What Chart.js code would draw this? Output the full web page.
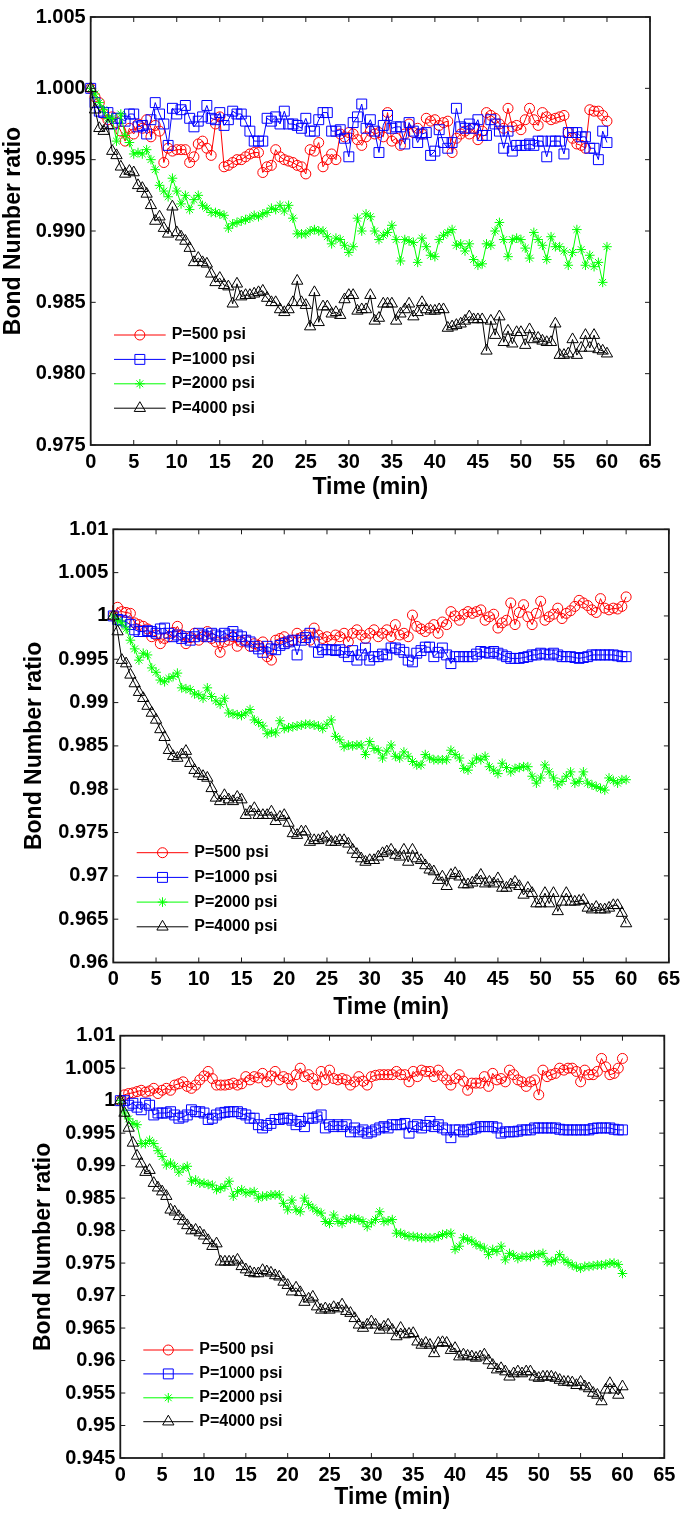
<!DOCTYPE html>
<html>
<head>
<meta charset="utf-8">
<title>Bond Number ratio vs time</title>
<script src="https://cdn.jsdelivr.net/npm/chart.js@4.4.0/dist/chart.umd.min.js"></script>
<style>
  html, body { margin: 0; padding: 0; background: #fff; }
  body { width: 685px; height: 1513px; position: relative; overflow: hidden; }
  canvas { position: absolute; left: 0; }
</style>
</head>
<body>
<canvas id="topChart" width="685" height="510" style="top:0px"></canvas>
<canvas id="midChart" width="685" height="525" style="top:500px"></canvas>
<canvas id="botChart" width="685" height="503" style="top:1010px"></canvas>
<script>
// time axis (min), one reading every 30 s
const TIME = [
  0, 0.5, 1, 1.5, 2, 2.5, 3, 3.5, 4, 4.5, 5, 5.5, 6, 6.5, 7, 7.5, 8, 8.5, 9, 9.5,
  10, 10.5, 11, 11.5, 12, 12.5, 13, 13.5, 14, 14.5, 15, 15.5, 16, 16.5, 17, 17.5, 18, 18.5, 19, 19.5,
  20, 20.5, 21, 21.5, 22, 22.5, 23, 23.5, 24, 24.5, 25, 25.5, 26, 26.5, 27, 27.5, 28, 28.5, 29, 29.5,
  30, 30.5, 31, 31.5, 32, 32.5, 33, 33.5, 34, 34.5, 35, 35.5, 36, 36.5, 37, 37.5, 38, 38.5, 39, 39.5,
  40, 40.5, 41, 41.5, 42, 42.5, 43, 43.5, 44, 44.5, 45, 45.5, 46, 46.5, 47, 47.5, 48, 48.5, 49, 49.5,
  50, 50.5, 51, 51.5, 52, 52.5, 53, 53.5, 54, 54.5, 55, 55.5, 56, 56.5, 57, 57.5, 58, 58.5, 59, 59.5,
  60
];

const SERIES = ['P=500 psi', 'P=1000 psi', 'P=2000 psi', 'P=4000 psi'];

// ---- top panel
const p500Top = [
  1.0000, 0.9994, 0.9990, 0.9982, 0.9978, 0.9980, 0.9976, 0.9970, 0.9963, 0.9972,
  0.9968, 0.9975, 0.9972, 0.9978, 0.9966, 0.9974, 0.9970, 0.9948, 0.9958, 0.9956,
  0.9957, 0.9957, 0.9957, 0.9948, 0.9952, 0.9961, 0.9963, 0.9958, 0.9953, 0.9975,
  0.9980, 0.9945, 0.9946, 0.9948, 0.9950, 0.9950, 0.9952, 0.9954, 0.9955, 0.9955,
  0.9941, 0.9945, 0.9946, 0.9957, 0.9952, 0.9950, 0.9949, 0.9948, 0.9946, 0.9945,
  0.9940, 0.9957, 0.9956, 0.9962, 0.9945, 0.9950, 0.9954, 0.9950, 0.9968, 0.9966,
  0.9969, 0.9968, 0.9964, 0.9960, 0.9966, 0.9970, 0.9968, 0.9969, 0.9966, 0.9983,
  0.9963, 0.9965, 0.9960, 0.9968, 0.9975, 0.9969, 0.9972, 0.9968, 0.9979, 0.9977,
  0.9978, 0.9974, 0.9976, 0.9977, 0.9955, 0.9965, 0.9968, 0.9970, 0.9968, 0.9972,
  0.9964, 0.9970, 0.9983, 0.9981, 0.9979, 0.9975, 0.9972, 0.9986, 0.9973, 0.9974,
  0.9971, 0.9978, 0.9986, 0.9978, 0.9974, 0.9983, 0.9980, 0.9978, 0.9979, 0.9980,
  0.9981, 0.9969, 0.9965, 0.9961, 0.9960, 0.9958, 0.9985, 0.9984, 0.9984, 0.9981,
  0.9977
];
const p1000Top = [
  1.0000, 0.9990, 0.9984, 0.9983, 0.9983, 0.9975, 0.9979, 0.9979, 0.9977, 0.9982,
  0.9982, 0.9973, 0.9974, 0.9968, 0.9978, 0.9990, 0.9982, 0.9975, 0.9960, 0.9986,
  0.9982, 0.9985, 0.9988, 0.9979, 0.9973, 0.9977, 0.9980, 0.9988, 0.9979, 0.9978,
  0.9983, 0.9974, 0.9978, 0.9984, 0.9982, 0.9982, 0.9977, 0.9970, 0.9963, 0.9963,
  0.9963, 0.9979, 0.9977, 0.9980, 0.9975, 0.9984, 0.9975, 0.9975, 0.9974, 0.9972,
  0.9979, 0.9970, 0.9970, 0.9978, 0.9983, 0.9983, 0.9970, 0.9970, 0.9971, 0.9965,
  0.9952, 0.9976, 0.9980, 0.9989, 0.9972, 0.9978, 0.9970, 0.9955, 0.9974, 0.9981,
  0.9972, 0.9973, 0.9973, 0.9961, 0.9976, 0.9970, 0.9962, 0.9968, 0.9969, 0.9953,
  0.9956, 0.9971, 0.9962, 0.9958, 0.9962, 0.9986, 0.9973, 0.9972, 0.9975, 0.9972,
  0.9978, 0.9967, 0.9967, 0.9978, 0.9975, 0.9970, 0.9958, 0.9970, 0.9956, 0.9960,
  0.9960, 0.9960, 0.9961, 0.9960, 0.9963, 0.9963, 0.9952, 0.9963, 0.9963, 0.9963,
  0.9954, 0.9969, 0.9969, 0.9969, 0.9966, 0.9966, 0.9958, 0.9958, 0.9950, 0.9970,
  0.9962
];
const p2000Top = [
  1.0000, 0.9996, 0.9990, 0.9985, 0.9979, 0.9979, 0.9963, 0.9982, 0.9967, 0.9962,
  0.9954, 0.9955, 0.9954, 0.9957, 0.9950, 0.9943, 0.9932, 0.9928, 0.9924, 0.9937,
  0.9928, 0.9919, 0.9925, 0.9915, 0.9922, 0.9925, 0.9918, 0.9916, 0.9913, 0.9913,
  0.9912, 0.9911, 0.9902, 0.9905, 0.9906, 0.9907, 0.9908, 0.9909, 0.9911, 0.9910,
  0.9912, 0.9913, 0.9916, 0.9915, 0.9918, 0.9914, 0.9918, 0.9909, 0.9898, 0.9898,
  0.9898, 0.9900, 0.9901, 0.9900, 0.9900, 0.9896, 0.9891, 0.9895, 0.9894, 0.9890,
  0.9885, 0.9889, 0.9909, 0.9900, 0.9912, 0.9910, 0.9900, 0.9894, 0.9897, 0.9899,
  0.9904, 0.9894, 0.9879, 0.9894, 0.9893, 0.9892, 0.9878, 0.9895, 0.9889, 0.9883,
  0.9882, 0.9894, 0.9897, 0.9899, 0.9901, 0.9890, 0.9891, 0.9886, 0.9891, 0.9880,
  0.9876, 0.9877, 0.9891, 0.9890, 0.9900, 0.9906, 0.9894, 0.9882, 0.9894, 0.9895,
  0.9894, 0.9888, 0.9881, 0.9899, 0.9894, 0.9890, 0.9880, 0.9896, 0.9889, 0.9889,
  0.9886, 0.9876, 0.9885, 0.9901, 0.9887, 0.9876, 0.9883, 0.9875, 0.9878, 0.9864,
  0.9889
];
const p4000Top = [
  1.0000, 0.9985, 0.9972, 0.9970, 0.9974, 0.9956, 0.9953, 0.9945, 0.9940, 0.9942,
  0.9941, 0.9932, 0.9930, 0.9926, 0.9918, 0.9907, 0.9910, 0.9902, 0.9898, 0.9917,
  0.9899, 0.9896, 0.9893, 0.9888, 0.9878, 0.9881, 0.9878, 0.9877, 0.9870, 0.9864,
  0.9867, 0.9862, 0.9861, 0.9849, 0.9863, 0.9854, 0.9855, 0.9855, 0.9856, 0.9857,
  0.9858, 0.9853, 0.9850, 0.9850, 0.9845, 0.9843, 0.9845, 0.9850, 0.9865, 0.9850,
  0.9848, 0.9833, 0.9857, 0.9836, 0.9847, 0.9847, 0.9842, 0.9843, 0.9841, 0.9852,
  0.9855, 0.9855, 0.9844, 0.9845, 0.9845, 0.9855, 0.9837, 0.9839, 0.9849, 0.9849,
  0.9849, 0.9837, 0.9842, 0.9845, 0.9849, 0.9840, 0.9843, 0.9850, 0.9845, 0.9844,
  0.9844, 0.9845, 0.9845, 0.9832, 0.9833, 0.9834, 0.9835, 0.9837, 0.9840, 0.9838,
  0.9838, 0.9838, 0.9816, 0.9837, 0.9827, 0.9840, 0.9822, 0.9830, 0.9821, 0.9829,
  0.9829, 0.9820, 0.9831, 0.9824, 0.9825, 0.9823, 0.9822, 0.9822, 0.9835, 0.9813,
  0.9813, 0.9814, 0.9824, 0.9813, 0.9818, 0.9827, 0.9818, 0.9827, 0.9817, 0.9816,
  0.9814
];

// ---- middle panel
const p500Mid = [
  1.0000, 1.0010, 1.0005, 1.0004, 1.0003, 0.9992, 0.9990, 0.9988, 0.9985, 0.9976,
  0.9978, 0.9968, 0.9974, 0.9976, 0.9981, 0.9988, 0.9978, 0.9968, 0.9975, 0.9980,
  0.9972, 0.9976, 0.9982, 0.9974, 0.9970, 0.9958, 0.9970, 0.9972, 0.9976, 0.9965,
  0.9970, 0.9972, 0.9965, 0.9968, 0.9966, 0.9970, 0.9953, 0.9949, 0.9972, 0.9974,
  0.9976, 0.9970, 0.9972, 0.9980, 0.9975, 0.9978, 0.9972, 0.9986, 0.9978, 0.9974,
  0.9976, 0.9972, 0.9978, 0.9976, 0.9980, 0.9970, 0.9980, 0.9984, 0.9978, 0.9974,
  0.9980, 0.9984, 0.9976, 0.9980, 0.9984, 0.9976, 0.9990, 0.9978, 0.9980, 0.9976,
  1.0001, 0.9988, 0.9985, 0.9982, 0.9986, 0.9990, 0.9980, 0.9993, 0.9990, 1.0005,
  1.0000, 0.9995, 1.0002, 1.0005, 1.0003, 1.0005, 1.0007, 0.9995, 0.9999, 1.0002,
  0.9986, 0.9992, 0.9995, 1.0015, 0.9990, 1.0004, 1.0013, 0.9999, 0.9990, 1.0003,
  1.0017, 0.9995, 0.9999, 1.0002, 1.0009, 0.9997, 1.0003, 1.0006, 1.0011, 1.0018,
  1.0015, 1.0012, 1.0007, 1.0004, 1.0020, 1.0009, 1.0007, 1.0009, 1.0008, 1.0011,
  1.0022
];
const p1000Mid = [
  1.0000, 0.9996, 0.9995, 0.9993, 0.9990, 0.9984, 0.9982, 0.9982, 0.9983, 0.9982,
  0.9980, 0.9985, 0.9986, 0.9980, 0.9976, 0.9978, 0.9974, 0.9976, 0.9972, 0.9976,
  0.9980, 0.9978, 0.9976, 0.9980, 0.9978, 0.9976, 0.9980, 0.9978, 0.9982, 0.9978,
  0.9976, 0.9972, 0.9970, 0.9965, 0.9962, 0.9958, 0.9965, 0.9962, 0.9961, 0.9966,
  0.9968, 0.9970, 0.9972, 0.9955, 0.9972, 0.9975, 0.9980, 0.9970, 0.9958, 0.9961,
  0.9961, 0.9961, 0.9960, 0.9961, 0.9958, 0.9953, 0.9960, 0.9949, 0.9955, 0.9963,
  0.9949, 0.9953, 0.9953, 0.9956, 0.9955, 0.9963, 0.9963, 0.9961, 0.9958, 0.9949,
  0.9947, 0.9957, 0.9960, 0.9964, 0.9964, 0.9953, 0.9958, 0.9963, 0.9955, 0.9945,
  0.9953, 0.9953, 0.9953, 0.9953, 0.9953, 0.9956, 0.9959, 0.9958, 0.9957, 0.9959,
  0.9957, 0.9955, 0.9953, 0.9951, 0.9951, 0.9951, 0.9952, 0.9953, 0.9955, 0.9955,
  0.9957, 0.9956, 0.9955, 0.9957, 0.9955, 0.9953, 0.9953, 0.9953, 0.9952, 0.9951,
  0.9952, 0.9953, 0.9955, 0.9955, 0.9955, 0.9955, 0.9955, 0.9955, 0.9954, 0.9953,
  0.9953
];
const p2000Mid = [
  1.0000, 0.9995, 0.9992, 0.9985, 0.9972, 0.9962, 0.9949, 0.9957, 0.9955, 0.9940,
  0.9935, 0.9926, 0.9924, 0.9928, 0.9930, 0.9934, 0.9917, 0.9916, 0.9915, 0.9910,
  0.9909, 0.9905, 0.9917, 0.9907, 0.9902, 0.9898, 0.9905, 0.9888, 0.9887, 0.9886,
  0.9885, 0.9888, 0.9892, 0.9880, 0.9877, 0.9873, 0.9864, 0.9866, 0.9865, 0.9879,
  0.9870, 0.9871, 0.9872, 0.9873, 0.9874, 0.9875, 0.9875, 0.9874, 0.9873, 0.9870,
  0.9875, 0.9880, 0.9861, 0.9857, 0.9849, 0.9851, 0.9850, 0.9851, 0.9851, 0.9840,
  0.9855, 0.9847, 0.9845, 0.9836, 0.9844, 0.9851, 0.9838, 0.9836, 0.9843, 0.9838,
  0.9832, 0.9828, 0.9828, 0.9840, 0.9836, 0.9834, 0.9834, 0.9834, 0.9834, 0.9845,
  0.9840, 0.9836, 0.9824, 0.9822, 0.9830, 0.9836, 0.9834, 0.9838, 0.9826, 0.9822,
  0.9818, 0.9830, 0.9825, 0.9820, 0.9824, 0.9825, 0.9826, 0.9826, 0.9815, 0.9807,
  0.9813, 0.9828, 0.9820, 0.9813, 0.9805, 0.9809, 0.9815, 0.9820, 0.9807, 0.9809,
  0.9820, 0.9807, 0.9805, 0.9803, 0.9801, 0.9799, 0.9813, 0.9810, 0.9807, 0.9811,
  0.9811
];
const p4000Mid = [
  1.0000, 0.9982, 0.9949, 0.9945, 0.9932, 0.9922, 0.9912, 0.9905, 0.9896, 0.9888,
  0.9880, 0.9869, 0.9860, 0.9845, 0.9838, 0.9836, 0.9840, 0.9844, 0.9830, 0.9822,
  0.9818, 0.9815, 0.9813, 0.9801, 0.9790, 0.9786, 0.9793, 0.9788, 0.9786, 0.9791,
  0.9788, 0.9770, 0.9774, 0.9778, 0.9770, 0.9770, 0.9770, 0.9774, 0.9763, 0.9768,
  0.9770, 0.9761, 0.9749, 0.9747, 0.9751, 0.9751, 0.9739, 0.9741, 0.9741, 0.9743,
  0.9745, 0.9739, 0.9739, 0.9741, 0.9741, 0.9737, 0.9730, 0.9725, 0.9720, 0.9716,
  0.9718, 0.9718, 0.9722, 0.9726, 0.9728, 0.9730, 0.9724, 0.9722, 0.9730, 0.9716,
  0.9730, 0.9720, 0.9718, 0.9712, 0.9707, 0.9705, 0.9695, 0.9699, 0.9688, 0.9701,
  0.9703, 0.9699, 0.9690, 0.9690, 0.9692, 0.9695, 0.9701, 0.9691, 0.9693, 0.9691,
  0.9697, 0.9686, 0.9686, 0.9690, 0.9693, 0.9688, 0.9678, 0.9686, 0.9680, 0.9668,
  0.9668, 0.9680, 0.9668, 0.9680, 0.9659, 0.9670, 0.9680, 0.9670, 0.9670, 0.9671,
  0.9672, 0.9663, 0.9661, 0.9664, 0.9661, 0.9661, 0.9663, 0.9666, 0.9666, 0.9657,
  0.9645
];

// ---- bottom panel
const p500Bot = [
  1.0000, 1.0009, 1.0011, 1.0012, 1.0014, 1.0016, 1.0013, 1.0015, 1.0019, 1.0011,
  1.0016, 1.0019, 1.0016, 1.0024, 1.0026, 1.0029, 1.0022, 1.0019, 1.0024, 1.0032,
  1.0038, 1.0045, 1.0034, 1.0024, 1.0024, 1.0024, 1.0025, 1.0027, 1.0024, 1.0026,
  1.0037, 1.0032, 1.0037, 1.0035, 1.0042, 1.0029, 1.0038, 1.0045, 1.0032, 1.0037,
  1.0034, 1.0024, 1.0040, 1.0050, 1.0037, 1.0040, 1.0034, 1.0024, 1.0045, 1.0032,
  1.0047, 1.0034, 1.0032, 1.0034, 1.0032, 1.0024, 1.0029, 1.0037, 1.0030, 1.0024,
  1.0037, 1.0039, 1.0040, 1.0040, 1.0040, 1.0040, 1.0045, 1.0040, 1.0040, 1.0029,
  1.0045, 1.0037, 1.0047, 1.0045, 1.0045, 1.0037, 1.0047, 1.0038, 1.0032, 1.0024,
  1.0034, 1.0040, 1.0030, 1.0016, 1.0027, 1.0027, 1.0027, 1.0037, 1.0022, 1.0042,
  1.0032, 1.0034, 1.0029, 1.0047, 1.0040, 1.0032, 1.0029, 1.0022, 1.0029, 1.0032,
  1.0009, 1.0047, 1.0037, 1.0040, 1.0042, 1.0050, 1.0047, 1.0050, 1.0050, 1.0045,
  1.0029, 1.0047, 1.0040, 1.0040, 1.0045, 1.0065, 1.0052, 1.0040, 1.0042, 1.0050,
  1.0065
];
const p1000Bot = [
  1.0000, 1.0000, 0.9993, 0.9996, 0.9990, 0.9986, 0.9996, 0.9993, 0.9978, 0.9981,
  0.9981, 0.9981, 0.9983, 0.9978, 0.9973, 0.9975, 0.9978, 0.9986, 0.9983, 0.9983,
  0.9981, 0.9971, 0.9973, 0.9978, 0.9981, 0.9982, 0.9983, 0.9983, 0.9983, 0.9980,
  0.9978, 0.9973, 0.9973, 0.9963, 0.9958, 0.9962, 0.9965, 0.9971, 0.9971, 0.9973,
  0.9973, 0.9970, 0.9963, 0.9968, 0.9960, 0.9973, 0.9973, 0.9975, 0.9978, 0.9958,
  0.9963, 0.9960, 0.9963, 0.9960, 0.9963, 0.9952, 0.9958, 0.9952, 0.9955, 0.9950,
  0.9952, 0.9955, 0.9958, 0.9960, 0.9958, 0.9963, 0.9963, 0.9963, 0.9965, 0.9950,
  0.9960, 0.9963, 0.9958, 0.9962, 0.9968, 0.9960, 0.9963, 0.9958, 0.9955, 0.9943,
  0.9955, 0.9955, 0.9952, 0.9955, 0.9956, 0.9958, 0.9960, 0.9960, 0.9960, 0.9960,
  0.9958, 0.9950, 0.9952, 0.9952, 0.9952, 0.9953, 0.9955, 0.9955, 0.9955, 0.9958,
  0.9958, 0.9958, 0.9958, 0.9958, 0.9958, 0.9956, 0.9955, 0.9955, 0.9955, 0.9955,
  0.9955, 0.9955, 0.9955, 0.9957, 0.9958, 0.9958, 0.9958, 0.9958, 0.9956, 0.9955,
  0.9955
];
const p2000Bot = [
  1.0000, 0.9981, 0.9972, 0.9965, 0.9963, 0.9934, 0.9934, 0.9939, 0.9934, 0.9923,
  0.9914, 0.9901, 0.9904, 0.9899, 0.9890, 0.9896, 0.9899, 0.9876, 0.9878, 0.9873,
  0.9873, 0.9871, 0.9870, 0.9863, 0.9865, 0.9868, 0.9876, 0.9853, 0.9860, 0.9863,
  0.9858, 0.9859, 0.9860, 0.9850, 0.9853, 0.9853, 0.9855, 0.9855, 0.9855, 0.9842,
  0.9832, 0.9847, 0.9832, 0.9829, 0.9850, 0.9840, 0.9835, 0.9830, 0.9827, 0.9814,
  0.9811, 0.9824, 0.9814, 0.9811, 0.9817, 0.9818, 0.9819, 0.9817, 0.9814, 0.9806,
  0.9812, 0.9817, 0.9829, 0.9814, 0.9815, 0.9817, 0.9796, 0.9796, 0.9793, 0.9791,
  0.9791, 0.9790, 0.9789, 0.9789, 0.9789, 0.9789, 0.9791, 0.9794, 0.9795, 0.9796,
  0.9771, 0.9776, 0.9789, 0.9786, 0.9784, 0.9779, 0.9776, 0.9773, 0.9763, 0.9771,
  0.9768, 0.9776, 0.9755, 0.9765, 0.9762, 0.9757, 0.9760, 0.9760, 0.9760, 0.9763,
  0.9763, 0.9765, 0.9752, 0.9752, 0.9755, 0.9763, 0.9755, 0.9751, 0.9747, 0.9744,
  0.9742, 0.9745, 0.9745, 0.9746, 0.9747, 0.9747, 0.9748, 0.9750, 0.9750, 0.9748,
  0.9734
];
const p4000Bot = [
  1.0000, 0.9981, 0.9958, 0.9935, 0.9915, 0.9903, 0.9890, 0.9893, 0.9873, 0.9866,
  0.9860, 0.9853, 0.9832, 0.9829, 0.9822, 0.9815, 0.9808, 0.9800, 0.9801, 0.9797,
  0.9792, 0.9785, 0.9776, 0.9780, 0.9752, 0.9752, 0.9752, 0.9752, 0.9755, 0.9745,
  0.9740, 0.9736, 0.9734, 0.9734, 0.9739, 0.9737, 0.9735, 0.9731, 0.9729, 0.9721,
  0.9716, 0.9706, 0.9712, 0.9705, 0.9690, 0.9695, 0.9698, 0.9683, 0.9678, 0.9680,
  0.9678, 0.9682, 0.9680, 0.9686, 0.9676, 0.9673, 0.9665, 0.9655, 0.9650, 0.9655,
  0.9660, 0.9655, 0.9647, 0.9652, 0.9655, 0.9647, 0.9637, 0.9650, 0.9640, 0.9641,
  0.9642, 0.9629, 0.9624, 0.9627, 0.9624, 0.9611, 0.9627, 0.9628, 0.9627, 0.9616,
  0.9619, 0.9606, 0.9609, 0.9607, 0.9606, 0.9604, 0.9606, 0.9609, 0.9600, 0.9593,
  0.9586, 0.9588, 0.9583, 0.9575, 0.9580, 0.9583, 0.9580, 0.9583, 0.9583, 0.9575,
  0.9573, 0.9575, 0.9575, 0.9575, 0.9573, 0.9570, 0.9567, 0.9567, 0.9566, 0.9562,
  0.9567, 0.9560, 0.9557, 0.9550, 0.9547, 0.9537, 0.9555, 0.9565, 0.9555, 0.9547,
  0.9560
];

// axis ranges
const X_RANGE = [0, 65];
const Y_RANGE_TOP = [0.975, 1.005];
const Y_RANGE_MID = [0.96, 1.01];
const Y_RANGE_BOT = [0.945, 1.01];

const FONT = '"Liberation Sans", Arial, Helvetica, sans-serif';
const COLORS = ['#ff0000', '#0000ff', '#00ff00', '#000000'];
const MARKERS = ['circle', 'rect', 'star', 'triangle'];
const MARKER_SIZE = [5, 7, 4.8, 6.5];

Chart.defaults.font.family = FONT;
Chart.defaults.color = '#000';

// legend drawn inside the axes, line + marker + label like matlab
const insideLegend = {
  id: 'insideLegend',
  afterDraw(chart, args, opts) {
    const ctx = chart.ctx;
    ctx.save();
    ctx.font = 'bold 16px ' + FONT;
    ctx.textBaseline = 'middle';
    chart.data.datasets.forEach((ds, i) => {
      const y = opts.y + i * opts.gap;
      ctx.strokeStyle = ds.borderColor;
      ctx.lineWidth = 1;
      ctx.beginPath();
      ctx.moveTo(opts.x, y);
      ctx.lineTo(opts.x + opts.len, y);
      ctx.stroke();
      ctx.fillStyle = 'rgba(0,0,0,0)';
      Chart.helpers.drawPoint(ctx, {
        pointStyle: ds.pointStyle, radius: ds.pointRadius, borderWidth: 1, rotation: 0
      }, opts.x + opts.len / 2, y);
      ctx.fillStyle = '#000';
      ctx.fillText(ds.label, opts.x + opts.len + opts.textGap, y);
    });
    ctx.restore();
  }
};

// box around the axes with ticks pointing inwards on all four sides
const boxFrame = {
  id: 'boxFrame',
  afterDatasetsDraw(chart) {
    const { ctx, chartArea: a, scales } = chart;
    const tl = 5;
    ctx.save();
    ctx.strokeStyle = '#1a1a1a';
    ctx.lineWidth = 1;
    ctx.beginPath();
    scales.x.ticks.forEach((t) => {
      const px = scales.x.getPixelForValue(t.value);
      ctx.moveTo(px, a.bottom); ctx.lineTo(px, a.bottom - tl);
      ctx.moveTo(px, a.top); ctx.lineTo(px, a.top + tl);
    });
    scales.y.ticks.forEach((t) => {
      const py = scales.y.getPixelForValue(t.value);
      ctx.moveTo(a.left, py); ctx.lineTo(a.left + tl, py);
      ctx.moveTo(a.right, py); ctx.lineTo(a.right - tl, py);
    });
    ctx.stroke();
    ctx.lineWidth = 1.8;
    ctx.strokeRect(a.left, a.top, a.right - a.left, a.bottom - a.top);
    ctx.restore();
  }
};

function makeDatasets(columns) {
  return columns.map((vals, i) => ({
    label: SERIES[i],
    data: vals.map((v, j) => ({ x: TIME[j], y: v })),
    borderColor: COLORS[i],
    backgroundColor: 'rgba(0,0,0,0)',
    borderWidth: 1,
    pointStyle: MARKERS[i],
    pointRadius: MARKER_SIZE[i],
    pointBorderColor: COLORS[i],
    pointBackgroundColor: 'rgba(0,0,0,0)',
    pointBorderWidth: 1,
    tension: 0,
    clip: false,
    order: 3 - i
  }));
}

function drawPanel(id, columns, yRange, geo, legendPos, fmt) {
  const canvas = document.getElementById(id);
  new Chart(canvas.getContext('2d'), {
    type: 'line',
    data: { datasets: makeDatasets(columns) },
    options: {
      responsive: false,
      animation: false,
      events: [],
      layout: { padding: { left: 0, top: geo.top, right: canvas.width - geo.right, bottom: 0 } },
      scales: {
        x: {
          type: 'linear',
          min: X_RANGE[0],
          max: X_RANGE[1],
          grid: { display: false, drawTicks: false },
          border: { display: false },
          ticks: { stepSize: 5, padding: 5, font: { size: 20, weight: 'bold' }, color: '#000' },
          title: {
            display: true, text: 'Time (min)', color: '#000',
            font: { size: 23, weight: 'bold' }, padding: { top: 0, bottom: geo.xTitlePad }
          },
          afterFit: (scale) => { scale.height = canvas.height - geo.bottom; }
        },
        y: {
          min: yRange[0],
          max: yRange[1],
          grid: { display: false, drawTicks: false },
          border: { display: false },
          ticks: {
            stepSize: 0.005, padding: 5, font: { size: 20, weight: 'bold' }, color: '#000',
            callback: fmt
          },
          title: {
            display: true, text: 'Bond Number ratio', color: '#000',
            font: { size: 23, weight: 'bold' }, padding: { top: geo.yTitlePad, bottom: 0 }
          },
          afterFit: (scale) => { scale.width = geo.left; }
        }
      },
      plugins: {
        legend: { display: false },
        tooltip: { enabled: false },
        insideLegend: legendPos
      }
    },
    plugins: [boxFrame, insideLegend]
  });
}

const fixed3 = (v) => Number(v).toFixed(3);
const short = (v) => String(parseFloat(Number(v).toFixed(3)));

drawPanel('topChart', [p500Top, p1000Top, p2000Top, p4000Top], Y_RANGE_TOP,
  { left: 90.7, right: 650, top: 11, bottom: 445, xTitlePad: 9, yTitlePad: 0 },
  { x: 114, y: 335, gap: 24.4, len: 51.7, textGap: 6 }, fixed3);

drawPanel('midChart', [p500Mid, p1000Mid, p2000Mid, p4000Mid], Y_RANGE_MID,
  { left: 113.3, right: 672.3, top: 29.3, bottom: 462.5, xTitlePad: 4, yTitlePad: 21 },
  { x: 136.7, y: 352.7, gap: 24.7, len: 51.6, textGap: 6 }, short);

drawPanel('botChart', [p500Bot, p1000Bot, p2000Bot, p4000Bot], Y_RANGE_BOT,
  { left: 120.3, right: 664.3, top: 25.7, bottom: 448, xTitlePad: 2, yTitlePad: 30 },
  { x: 143.3, y: 340, gap: 23.9, len: 50, textGap: 6 }, short);
</script>
</body>
</html>
